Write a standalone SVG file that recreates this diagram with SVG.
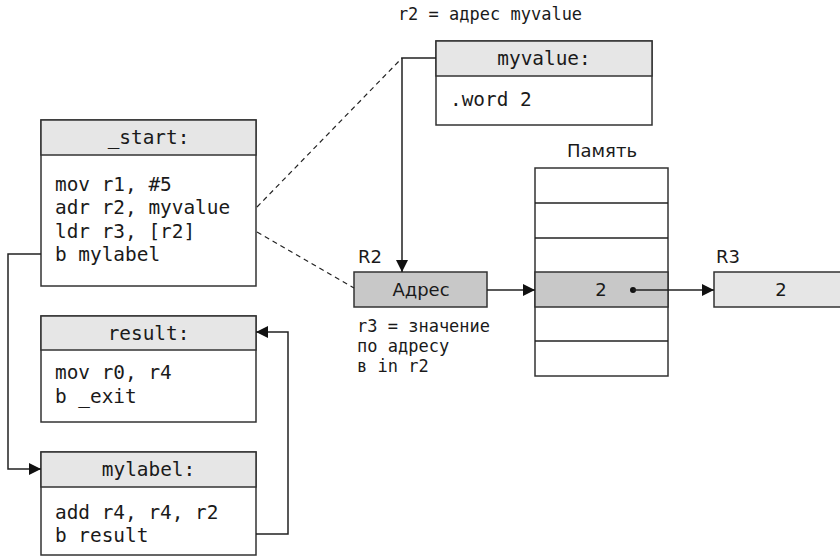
<svg xmlns="http://www.w3.org/2000/svg" width="840" height="558" viewBox="0 0 840 558">
<defs>
<style>
.box{fill:#ffffff;stroke:#333333;stroke-width:1.5}
.hdr{fill:#e6e6e6;stroke:#333333;stroke-width:1.5}
.dark{fill:#c8c8c8;stroke:#333333;stroke-width:1.5}
.mono{font-family:"DejaVu Sans Mono","Liberation Mono",monospace;font-size:19.4px;fill:#1a1a1a}
.mono-s{font-family:"DejaVu Sans Mono","Liberation Mono",monospace;font-size:17px;fill:#1a1a1a}
.sans{font-family:"DejaVu Sans","Liberation Sans",sans-serif;font-size:18px;fill:#1a1a1a}
.mid{text-anchor:middle}
.line{fill:none;stroke:#222222;stroke-width:1.5}
.dash{fill:none;stroke:#222222;stroke-width:1.2;stroke-dasharray:5 4}
</style>
<marker id="arr" viewBox="0 0 12 12" refX="12" refY="6" markerWidth="12" markerHeight="12" markerUnits="userSpaceOnUse" orient="auto">
<path d="M0,0 L12,6 L0,12 z" fill="#111111"/>
</marker>
</defs>
<rect width="840" height="558" fill="#ffffff"/>

<g id="start">
<rect class="box" x="41" y="120" width="215" height="166"/>
<rect class="hdr" x="41" y="120" width="215" height="35"/>
<text class="mono mid" x="148.5" y="144">_start:</text>
<text class="mono" x="55" y="191">mov r1, #5</text>
<text class="mono" x="55" y="214">adr r2, myvalue</text>
<text class="mono" x="55" y="238">ldr r3, [r2]</text>
<text class="mono" x="55" y="261">b mylabel</text>
</g>

<g id="result">
<rect class="box" x="41" y="316" width="215" height="106"/>
<rect class="hdr" x="41" y="316" width="215" height="34"/>
<text class="mono mid" x="148.5" y="340">result:</text>
<text class="mono" x="55" y="379">mov r0, r4</text>
<text class="mono" x="55" y="403">b _exit</text>
</g>

<g id="mylabel">
<rect class="box" x="41" y="452" width="215" height="103"/>
<rect class="hdr" x="41" y="452" width="215" height="35"/>
<text class="mono mid" x="148.5" y="476">mylabel:</text>
<text class="mono" x="55" y="519">add r4, r4, r2</text>
<text class="mono" x="55" y="542">b result</text>
</g>

<g id="myvalue">
<rect class="box" x="436" y="41" width="216" height="84"/>
<rect class="hdr" x="436" y="41" width="216" height="35"/>
<text class="mono mid" x="544" y="65">myvalue:</text>
<text class="mono" x="450" y="106">.word 2</text>
</g>

<g id="label-r2-addr">
<text class="mono-s mid" x="490" y="20">r2 = адрес myvalue</text>
</g>

<g id="r2">
<text class="sans" x="358" y="263">R2</text>
<rect class="dark" x="354" y="272" width="133" height="35"/>
<text class="sans mid" x="421" y="296">Адрес</text>
</g>

<g id="label-r3">
<text class="mono-s" x="357" y="332">r3 = значение</text>
<text class="mono-s" x="357" y="352">по адресу</text>
<text class="mono-s" x="357" y="372">в in r2</text>
</g>

<g id="memory">
<text class="sans mid" x="602" y="157">Память</text>
<rect class="box" x="535" y="168" width="133" height="208"/>
<rect class="dark" x="535" y="272" width="133" height="35"/>
<line class="line" x1="535" y1="203" x2="668" y2="203"/>
<line class="line" x1="535" y1="238" x2="668" y2="238"/>
<line class="line" x1="535" y1="341" x2="668" y2="341"/>
<text class="sans mid" x="601" y="296">2</text>
</g>

<g id="r3">
<text class="sans" x="716" y="263">R3</text>
<rect class="hdr" x="714" y="272" width="140" height="35"/>
<text class="sans mid" x="781" y="296">2</text>
</g>

<g id="connectors">
<polyline class="line" points="41,254 8,254 8,469 41,469" marker-end="url(#arr)"/>
<polyline class="line" points="256,534 288,534 288,332 256,332" marker-end="url(#arr)"/>
<polyline class="line" points="436,58 402,58 402,272" marker-end="url(#arr)"/>
<line class="dash" x1="257" y1="207" x2="402" y2="58"/>
<line class="dash" x1="257" y1="232" x2="354" y2="288"/>
<line class="line" x1="487" y1="290" x2="535" y2="290" marker-end="url(#arr)"/>
<circle cx="633" cy="290" r="3" fill="#111111"/>
<line class="line" x1="633" y1="290" x2="714" y2="290" marker-end="url(#arr)"/>
</g>
</svg>
